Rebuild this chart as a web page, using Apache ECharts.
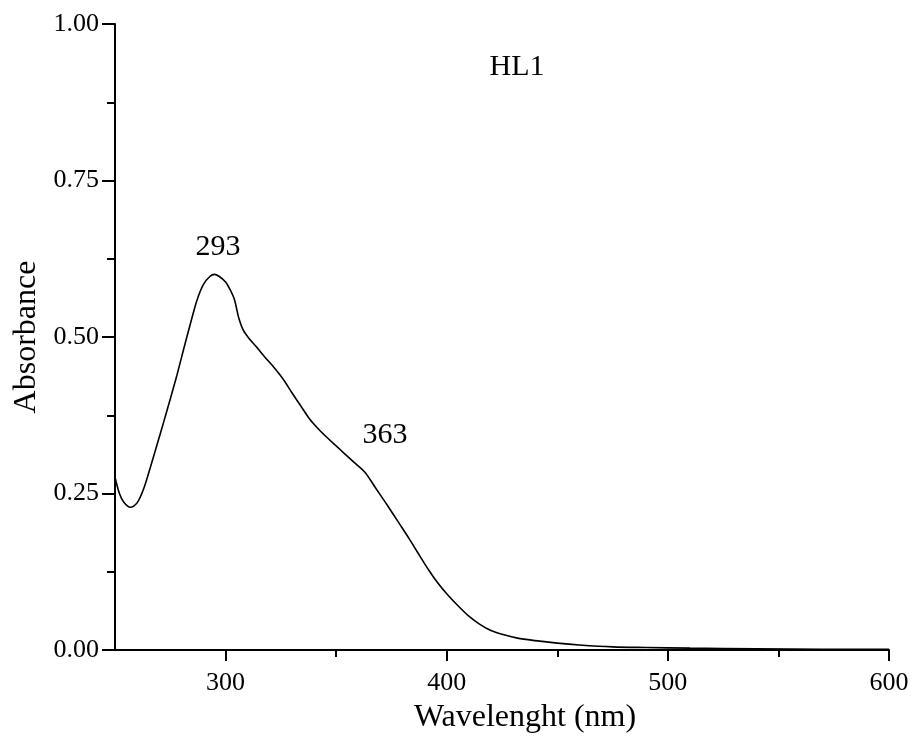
<!DOCTYPE html>
<html>
<head>
<meta charset="utf-8">
<style>
  html, body { margin: 0; padding: 0; background: #fff; }
  #chart { width: 914px; height: 749px; }
</style>
<script src="https://cdn.jsdelivr.net/npm/echarts@6/dist/echarts.min.js"></script>
</head>
<body>
<div id="chart"></div>
<script>
// UV-Vis absorption spectrum of HL1
const wavelength = [250, 252, 254, 257, 260, 263, 266, 269, 272, 275, 278, 281, 284, 287, 290, 293, 295, 297, 300, 302, 304, 306, 308, 311, 314, 318, 322, 326, 330, 334, 338, 342, 346, 350, 354, 358, 363, 368, 373, 378, 383, 387, 392, 396, 400, 405, 410, 415, 420, 425, 432, 440, 450, 460, 475, 490, 510, 540, 570, 600];
const absorbance = [0.276, 0.250, 0.236, 0.228, 0.235, 0.258, 0.292, 0.328, 0.364, 0.401, 0.439, 0.480, 0.520, 0.558, 0.584, 0.597, 0.600, 0.597, 0.588, 0.576, 0.560, 0.530, 0.511, 0.496, 0.484, 0.467, 0.451, 0.433, 0.411, 0.390, 0.369, 0.353, 0.339, 0.326, 0.313, 0.300, 0.284, 0.258, 0.232, 0.205, 0.178, 0.155, 0.127, 0.107, 0.090, 0.071, 0.054, 0.041, 0.031, 0.025, 0.019, 0.015, 0.011, 0.008, 0.005, 0.004, 0.003, 0.002, 0.001, 0.001];

// Band maxima annotated on the curve
const peakWavelengths = [293, 363];

const xMajorTicks = [300, 400, 500, 600];
const xMinorTicks = [350, 450, 550];

const font = '"Liberation Serif", "Times New Roman", serif';

const spectrum = wavelength.map((w, i) => [w, absorbance[i]]);
const peaks = peakWavelengths.map(w => [w, absorbance[wavelength.indexOf(w)]]);

const chart = echarts.init(document.getElementById('chart'));
chart.setOption({
  backgroundColor: '#fff',
  animation: false,
  title: {
    text: 'HL1',
    left: 512, top: 62,
    textAlign: 'center', textVerticalAlign: 'middle',
    textStyle: { fontFamily: font, fontSize: 30, fontWeight: 'normal', color: '#000' }
  },
  grid: { left: 115, right: 25, top: 24, bottom: 99 },
  xAxis: [{
    type: 'value', min: 250, max: 600,
    name: 'Wavelenght (nm)', nameLocation: 'middle', nameGap: 52,
    nameTextStyle: { fontFamily: font, fontSize: 32, color: '#000', padding: [0, 0, 0, 46] },
    axisLine: { onZero: false, lineStyle: { color: '#000', width: 2 } },
    axisTick: { customValues: xMajorTicks, length: 11, lineStyle: { color: '#000', width: 2 } },
    axisLabel: { customValues: xMajorTicks, fontFamily: font, fontSize: 26, color: '#000', margin: 20 },
    splitLine: { show: false }
  }, {
    type: 'value', min: 250, max: 600, position: 'bottom',
    axisLine: { show: false },
    axisTick: { customValues: xMinorTicks, length: 7, lineStyle: { color: '#000', width: 2 } },
    axisLabel: { show: false },
    splitLine: { show: false }
  }],
  yAxis: {
    type: 'value', min: 0, max: 1, interval: 0.25,
    name: 'Absorbance', nameLocation: 'middle', nameGap: 70, nameRotate: 90,
    nameTextStyle: { fontFamily: font, fontSize: 32, color: '#000' },
    axisLine: { show: true, lineStyle: { color: '#000', width: 2 } },
    axisTick: { show: true, length: 13, lineStyle: { color: '#000', width: 2 } },
    minorTick: { show: true, splitNumber: 2, length: 8, lineStyle: { color: '#000', width: 2 } },
    axisLabel: { fontFamily: font, fontSize: 26, color: '#000', margin: 16,
      formatter: v => v.toFixed(2) },
    splitLine: { show: false }
  },
  series: [{
    type: 'line',
    data: spectrum,
    showSymbol: false,
    smooth: 0.3,
    lineStyle: { color: '#000', width: 1.6 }
  }, {
    type: 'scatter',
    data: peaks,
    symbolSize: 0,
    silent: true,
    itemStyle: { opacity: 1, color: '#000' },
    label: {
      show: true,
      formatter: p => String(p.value[0]),
      fontFamily: font, fontSize: 30, color: '#000',
      position: 'inside'
    },
    labelLayout: function (params) {
      const i = params.dataIndex;
      const off = i === 0 ? [8, -29] : [20, -37];
      return {
        x: params.rect.x + params.rect.width / 2 + off[0],
        y: params.rect.y + params.rect.height / 2 + off[1],
        align: 'center', verticalAlign: 'middle'
      };
    }
  }]
});
</script>
</body>
</html>
